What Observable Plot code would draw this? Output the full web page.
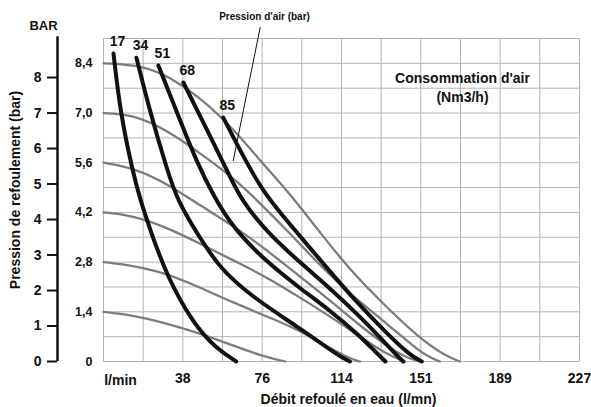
<!DOCTYPE html>
<html>
<head>
<meta charset="utf-8">
<script src="https://cdn.jsdelivr.net/npm/d3@7"></script>
<script src="https://cdn.jsdelivr.net/npm/@observablehq/plot@0.6"></script>
<style>
  html, body { margin: 0; padding: 0; background: #fff; }
  #chart svg { display: block; }
</style>
</head>
<body>
<div id="chart"></div>
<script>
// ---- Data (flow in l/min, pressure in bar) ----
const flowTicks = [37.85, 75.7, 113.55, 151.4, 189.25, 227.1];
const flowTickLabels = ["38", "76", "114", "151", "189", "227"];
const barTicks = [0, 1, 2, 3, 4, 5, 6, 7, 8];
const airPressures = [0, 1.4, 2.8, 4.2, 5.6, 7.0, 8.4];
const airPressureLabels = ["0", "1,4", "2,8", "4,2", "5,6", "7,0", "8,4"];
const airConsumptions = [17, 34, 51, 68, 85];

// Air consumption curves (Nm3/h) – black
const consumption17 = [[4.76,8.68],[8.09,6.99],[13.81,5.38],[17.62,4.54],[22.38,3.69],[30.47,2.37],[42.85,1.07],[53.32,0.39],[63.32,0]];
const consumption34 = [[15.71,8.56],[22.38,6.99],[30.47,5.38],[35.23,4.54],[46.18,3.46],[55.70,2.62],[69.99,1.86],[93.79,0.93],[112.83,0.13],[117.60,0]];
const consumption51 = [[26.19,8.34],[35.23,6.99],[44.75,5.58],[52.37,4.68],[61.89,3.75],[78.08,2.79],[93.79,2.06],[108.07,1.44],[122.36,0.72],[130.0,0.26],[134.5,0]];
const consumption68 = [[38.09,7.86],[49.51,6.51],[59.04,5.38],[65.23,4.59],[78.08,3.63],[93.79,2.79],[108.07,2.06],[122.36,1.27],[134.26,0.53],[140.0,0.17],[143.0,0]];
const consumption85 = [[57.13,6.87],[65.23,5.94],[76.18,4.76],[89.03,3.86],[105.69,2.70],[119.97,1.72],[135.21,0.79],[146.16,0.18],[151.87,0]];

// Air pressure curves (bar) – grey
const pressure14 = [[0,1.4],[14.28,1.30],[30.47,1.07],[46.18,0.79],[61.89,0.45],[74.75,0.17],[86.65,0]];
const pressure28 = [[0,2.8],[14.28,2.70],[30.47,2.48],[46.18,2.08],[61.89,1.66],[78.08,1.27],[93.79,0.87],[105.69,0.45],[117.60,0.08],[122.36,0]];
const pressure42 = [[0,4.2],[14.28,4.11],[30.47,3.77],[46.18,3.32],[61.89,2.85],[78.08,2.37],[93.79,1.80],[108.07,1.27],[122.36,0.70],[134.26,0.23],[143.78,0]];
const pressure56 = [[0,5.6],[14.28,5.46],[30.47,5.01],[46.18,4.39],[61.89,3.83],[78.08,3.13],[93.79,2.39],[108.07,1.72],[122.36,1.01],[136.64,0.37],[145.0,0.10],[150.92,0]];
const pressure70 = [[0,7.0],[14.28,6.96],[30.47,6.51],[46.18,5.86],[61.89,5.18],[73.32,4.54],[89.03,3.61],[103.31,2.70],[119.02,1.83],[135.21,1.07],[148.54,0.39],[155.69,0.11],[160.45,0]];
const pressure84 = [[0,8.4],[19.04,8.34],[31.90,8.00],[46.18,7.44],[61.89,6.56],[74.75,5.66],[90.46,4.62],[103.31,3.63],[119.02,2.48],[135.21,1.52],[150.92,0.65],[162.83,0.17],[169.97,0]];

// Leader line for "Pression d'air (bar)"
const leader = [[74.75, 9.41], [61.89, 5.66]];

// ---- Build tables ----
const consumptionSets = [consumption17, consumption34, consumption51, consumption68, consumption85];
const pressureSets = [pressure14, pressure28, pressure42, pressure56, pressure70, pressure84];
const blackRows = consumptionSets.flatMap((pts, i) => pts.map(([x, y]) => ({x, y, k: airConsumptions[i]})));
const greyRows = pressureSets.flatMap((pts, i) => pts.map(([x, y]) => ({x, y, k: airPressures[i + 1]})));
const curveLabels = consumptionSets.map((pts, i) => ({x: pts[0][0], y: pts[0][1], t: String(airConsumptions[i])}));

const FONT = "'Liberation Sans', Arial, sans-serif";
const xMax = flowTicks[flowTicks.length - 1];
const gridXs = d3.range(0, 13).map(i => i * xMax / 12);
const gridYs = d3.range(0, 14).map(i => i * 0.7);

const chart = Plot.plot({
  width: 591,
  height: 407,
  marginLeft: 103,
  marginRight: 12,
  marginTop: 38,
  marginBottom: 46,
  style: {fontFamily: FONT, background: "#fff", color: "#111"},
  x: {domain: [0, xMax]},
  y: {domain: [0, 9.1]},
  marks: [
    Plot.gridX(gridXs, {stroke: "#b4b4b4", strokeOpacity: 1, strokeWidth: 1}),
    Plot.gridY(gridYs, {stroke: "#b4b4b4", strokeOpacity: 1, strokeWidth: 1}),
    Plot.line(greyRows, {x: "x", y: "y", z: "k", stroke: "#7c7c7c", strokeWidth: 2.3, curve: "basis"}),
    Plot.line(blackRows, {x: "x", y: "y", z: "k", stroke: "#111", strokeWidth: 4, curve: "basis"}),
    Plot.text(curveLabels, {x: "x", y: "y", text: "t", dx: 4, dy: -12, fontSize: 14, fontWeight: "bold", fill: "#111"}),
    // leader line
    Plot.line(leader, {x: d => d[0], y: d => d[1], stroke: "#111", strokeWidth: 1}),
    // left BAR axis
    Plot.ruleX([0], {y1: 0, y2: 9.15, dx: -46, stroke: "#111", strokeWidth: 2.5}),
    Plot.axisY(barTicks, {anchor: "left", dx: -46, tickSize: 10, tickPadding: 6, fontSize: 14, fontWeight: "bold", strokeWidth: 2, label: null}),
    // inner air pressure labels
    Plot.axisY(airPressures, {anchor: "left", tickSize: 0, tickPadding: 11, fontSize: 12.5, fontWeight: "bold",
      tickFormat: d => airPressureLabels[airPressures.indexOf(d)], label: null}),
    // x axis
    Plot.axisX(flowTicks, {anchor: "bottom", tickSize: 0, tickPadding: 12, fontSize: 14, fontWeight: "bold",
      tickFormat: d => flowTickLabels[flowTicks.indexOf(d)], label: null}),
    Plot.text(["l/min"], {frameAnchor: "bottom-left", textAnchor: "middle", dx: 17, dy: 19, fontSize: 14, fontWeight: "bold", lineAnchor: "middle"}),
    Plot.text(["Débit refoulé en eau (l/mn)"], {frameAnchor: "bottom", textAnchor: "middle", dx: 7, dy: 38, fontSize: 14, fontWeight: "bold", lineAnchor: "middle"}),
    Plot.text(["Pression de refoulement (bar)"], {frameAnchor: "left", textAnchor: "middle", dx: -88, dy: -10, rotate: -90, fontSize: 14, fontWeight: "bold", lineAnchor: "middle"}),
    Plot.text(["BAR"], {frameAnchor: "top-left", textAnchor: "middle", dx: -60, dy: -13, fontSize: 13, fontWeight: "bold", lineAnchor: "middle"}),
    Plot.text(["Pression d'air (bar)"], {frameAnchor: "top-left", textAnchor: "middle", dx: 161, dy: -22, fontSize: 10, fontWeight: "bold", lineAnchor: "middle"}),
    Plot.text(["Consommation d'air"], {frameAnchor: "top-right", textAnchor: "middle", dx: -117, dy: 40, fontSize: 14, fontWeight: "bold", lineAnchor: "middle"}),
    Plot.text(["(Nm3/h)"], {frameAnchor: "top-right", textAnchor: "middle", dx: -117, dy: 59, fontSize: 14, fontWeight: "bold", lineAnchor: "middle"})
  ]
});
document.getElementById("chart").appendChild(chart);
</script>
</body>
</html>
